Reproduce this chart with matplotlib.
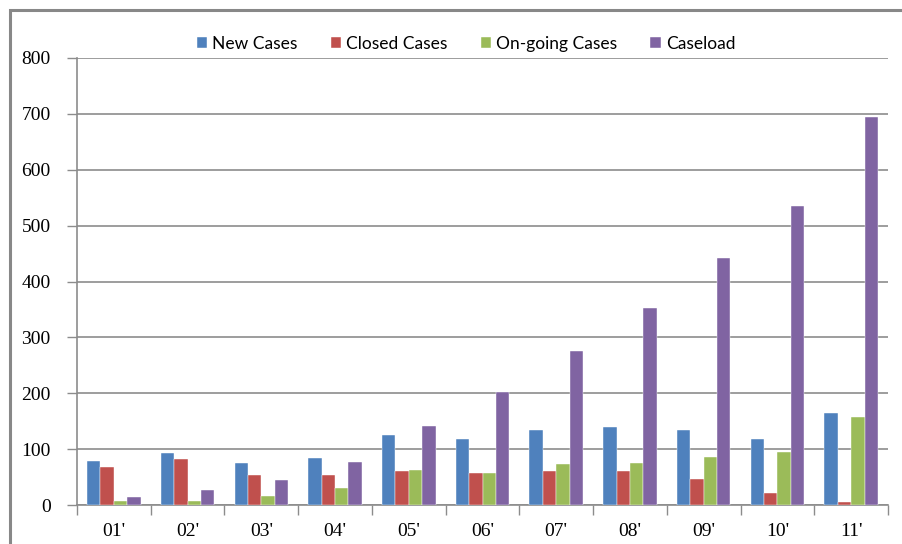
import numpy as np
import matplotlib
matplotlib.use("Agg")
from matplotlib import pyplot as plt
from matplotlib.patches import Rectangle

# Chart data
months = ["01'", "02'", "03'", "04'", "05'", "06'", "07'", "08'", "09'", "10'", "11'"]
new_cases = [79, 93, 75, 84, 125, 118, 135, 139, 135, 119, 165]
closed_cases = [68, 82, 54, 54, 60, 57, 60, 60, 47, 21, 5]
ongoing_cases = [8, 8, 17, 31, 62, 57, 74, 76, 86, 94, 158]
caseload = [15, 26, 45, 77, 141, 202, 276, 352, 442, 535, 694]

series_names = ["New Cases", "Closed Cases", "On-going Cases", "Caseload"]
colors = ["#4F81BD", "#C0504D", "#9BBB59", "#8064A2"]

W, H = 903, 544
fig = plt.figure(figsize=(W / 100, H / 100), dpi=100)
ax = fig.add_axes([77 / W, 1 - 505 / H, (888 - 77) / W, (505 - 58) / H])

# Excel style clustered bars: gap width 150%
x = np.arange(len(months))
bar_w = 1 / 5.5
all_series = [new_cases, closed_cases, ongoing_cases, caseload]
for i, (vals, name, col) in enumerate(zip(all_series, series_names, colors)):
    offset = (i - 1.5) * bar_w
    ax.bar(x + offset, vals, width=bar_w, color=col, label=name,
           edgecolor="#ffffff", linewidth=0.3, zorder=3)

ax.set_xlim(-0.5, len(months) - 0.5)
ax.set_ylim(0, 800)
ax.set_yticks(range(0, 801, 100))
ax.yaxis.grid(True, color="#8c8c8c", linewidth=1.2, zorder=0)

# category labels centered, tick marks between categories
ax.set_xticks(x)
ax.set_xticklabels(months)
ax.set_xticks(np.arange(-0.5, len(months)), minor=True)
ax.tick_params(axis="x", which="major", length=0, pad=13)
ax.tick_params(axis="x", which="minor", length=7, color="#8c8c8c", width=1)
ax.tick_params(axis="y", length=7, color="#8c8c8c", width=1, pad=12)

for lab in ax.get_xticklabels() + ax.get_yticklabels():
    lab.set_family(["Liberation Serif", "DejaVu Serif"])
    lab.set_fontsize(14)

for side in ["top", "right"]:
    ax.spines[side].set_visible(False)
for side in ["left", "bottom"]:
    ax.spines[side].set_color("#8c8c8c")
    ax.spines[side].set_linewidth(1.2)

leg = ax.legend(loc="center", bbox_to_anchor=(466 / W, 1 - 44 / H),
                bbox_transform=fig.transFigure, ncol=4, frameon=False,
                prop={"family": ["Lato", "DejaVu Sans"], "size": 12.5},
                handlelength=0.6, handleheight=0.6, handletextpad=0.3,
                columnspacing=1.9)

# outer chart border, cropped on the right and bottom
fig.patches.append(Rectangle((10 / W, -0.1), 1.2, 1 - 10 / H + 0.1,
                             transform=fig.transFigure, fill=False,
                             edgecolor="#888888", linewidth=2.2))

fig.savefig("out.png", dpi=100)
